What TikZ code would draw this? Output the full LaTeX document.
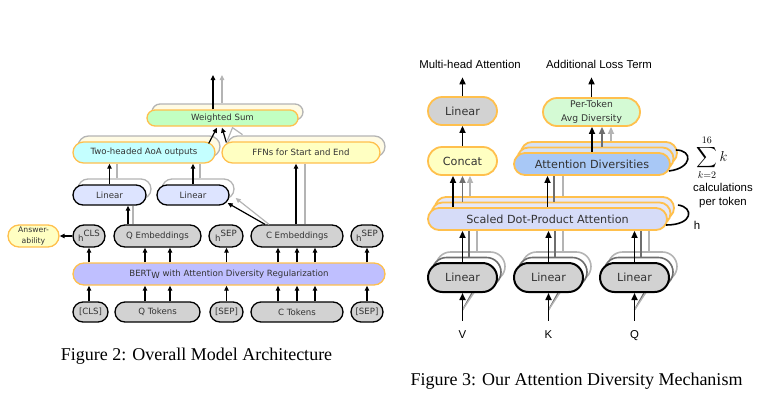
\documentclass[tikz,border=0pt]{standalone}
\usepackage{amsmath}
\usepackage{fontspec}
\setmainfont{Liberation Serif}
\setsansfont{DejaVu Sans}
\newfontfamily\arialfont{Liberation Sans}
\usetikzlibrary{shapes.misc,shadows,calc,arrows.meta,backgrounds}

\definecolor{boxorange}{HTML}{FFC04D}
\definecolor{aoacyan}{HTML}{C4FFFF}
\definecolor{sumgreen}{HTML}{C2FFC2}
\definecolor{ffnyellow}{HTML}{FFFFC2}
\definecolor{linblue}{HTML}{DDE4FF}
\definecolor{bertblue}{HTML}{BFBFFF}
\definecolor{embgray}{HTML}{D2D2D2}
\definecolor{creamshade}{HTML}{FFFBE4}
\definecolor{tokgreen}{HTML}{D4FAD4}
\definecolor{divblue}{HTML}{A8C8F6}
\definecolor{divback}{HTML}{D6E2F6}
\definecolor{sdpblue}{HTML}{D6DCF8}
\definecolor{sdpback}{HTML}{E6E8F8}
\definecolor{midgray}{HTML}{6E6E6E}
\definecolor{shadegray}{HTML}{B4B4B4}

\tikzset{
  pill/.style={rounded rectangle, inner sep=0pt, align=center, text=black!80},
  fig2/.style={pill, font=\sffamily\fontsize{8.6}{10}\selectfont, line width=1.3pt},
  fig3/.style={pill, font=\sffamily\fontsize{11.2}{13}\selectfont, line width=1.8pt},
  obox/.style={fig2, draw=boxorange, fill=#1},
  kbox/.style={fig2, draw=black, fill=#1},
  halo/.style={copy shadow={shadow xshift=5pt, shadow yshift=6pt, fill=#1, draw=shadegray}},
  ostack/.style 2 args={copy shadow={shadow xshift=7pt, shadow yshift=11pt, fill=#2, draw=boxorange},
                        copy shadow={shadow xshift=3.5pt, shadow yshift=5.5pt, fill=#1, draw=boxorange}},
  kstack/.style={copy shadow={shadow xshift=8pt, shadow yshift=11pt, fill=white, draw=shadegray, line width=1.6pt},
                 copy shadow={shadow xshift=4pt, shadow yshift=5.5pt, fill=white, draw=midgray, line width=1.6pt}},
  arr/.style={-{Triangle[length=5pt,width=4.5pt]}, line width=1.2pt},
  garr/.style={arr, draw=shadegray},
  gline/.style={line width=1.2pt, draw=shadegray},
  bigarr/.style={-{Triangle[length=7pt,width=6pt]}, line width=1.6pt},
  lbl/.style={font=\arialfont\fontsize{11.4}{14}\selectfont, inner sep=0pt, align=center},
  figcap/.style={font=\fontsize{18}{20}\selectfont, inner sep=0pt},
}

\begin{document}
\begin{tikzpicture}[x=1pt,y=-1pt]
  \useasboundingbox (0,0) rectangle (757,402);

  % Figure 2: tokens
  \node[kbox=embgray, minimum width=35pt, minimum height=20pt] (tcls) at (90.5,312) {[CLS]};
  \node[kbox=embgray, minimum width=85pt, minimum height=20pt] (tq) at (157.5,312) {Q Tokens};
  \node[kbox=embgray, minimum width=33pt, minimum height=20pt] (tsep) at (226.5,312) {[SEP]};
  \node[kbox=embgray, minimum width=92pt, minimum height=20pt] (tc) at (297,312) {C Tokens};
  \node[kbox=embgray, minimum width=32pt, minimum height=20pt] (tsepb) at (367,312) {[SEP]};

  % Encoder
  \node[obox=bertblue, minimum width=312pt, minimum height=22pt] (bert) at (229,274)
    {BERT\raisebox{-2.5pt}{W} with Attention Diversity Regularization};

  % Embeddings
  \node[kbox=embgray, minimum width=32pt, minimum height=22pt] (hcls) at (89,236) {h\raisebox{4.5pt}{CLS}};
  \node[kbox=embgray, minimum width=87pt, minimum height=22pt] (qemb) at (157.5,236) {Q Embeddings};
  \node[kbox=embgray, minimum width=34pt, minimum height=22pt] (hsep) at (226,236) {h\raisebox{4.5pt}{SEP}};
  \node[kbox=embgray, minimum width=92pt, minimum height=22pt] (cemb) at (297,236) {C Embeddings};
  \node[kbox=embgray, minimum width=32pt, minimum height=22pt] (hsepb) at (367,236) {h\raisebox{4.5pt}{SEP}};
  \node[obox=ffnyellow, minimum width=51pt, minimum height=22pt,
        font=\sffamily\fontsize{7.7}{11.5}\selectfont] (ans) at (33.5,236) {Answer-\\ability};

  % Linear layers and heads
  \node[kbox=linblue, halo=white, minimum width=73pt, minimum height=20pt] (lina) at (109.5,195) {Linear};
  \node[kbox=linblue, halo=white, minimum width=72pt, minimum height=20pt] (linb) at (193,195) {Linear};
  \node[obox=aoacyan, halo=creamshade, minimum width=142pt, minimum height=21pt] (aoa) at (144,152.5) {Two-headed AoA outputs};
  \node[obox=ffnyellow, halo=creamshade, minimum width=158pt, minimum height=21pt] (ffn) at (301,152.5) {FFNs for Start and End};
  \node[obox=sumgreen, halo=creamshade, minimum width=151pt, minimum height=16pt] (wsum) at (222.5,118) {Weighted Sum};
  \coordinate (wsout) at (213,75);

  % Arrows through the encoder
  \foreach \tok/\emb/\dx in {tcls/hcls/-1.5, tq/qemb/-12.5, tq/qemb/12.5, tsep/hsep/0,
                             tc/cemb/-19, tc/cemb/0, tc/cemb/18, tsepb/hsepb/0}{
    \draw[arr] ($(\tok.north)+(\dx,0)$) -- ($(\tok.north |- bert.south)+(\dx,0)$);
    \draw[arr] ($(\tok.north |- bert.north)+(\dx,0)$) -- ($(\tok.north |- \emb.south)+(\dx,0)$);
  }

  % Arrows to the heads
  \draw[arr] (hcls.west) -- (ans.east);
  \draw[arr] ($(qemb.north)+(-29.5,0)$) -- ($(qemb.north |- lina.south)+(-29.5,0)$);
  \draw[garr] ($(cemb.north)+(-28,0)$) -- ($(linb.east)+(6,3)$);
  \draw[arr] ($(cemb.north)+(-32,0)$) -- ($(linb.east)+(-2,8)$);
  \draw[arr] ($(cemb.north)+(-1,0)$) -- ($(cemb.north |- ffn.south)+(-1,0)$);
  \draw[arr] (lina.north) -- (lina.north |- aoa.south);
  \draw[arr] (linb.north) -- (linb.north |- aoa.south);
  \draw[arr] ($(aoa.east)+(-7,-9)$) -- ($(wsum.south)+(-5.5,1)$);
  \draw[arr] ($(ffn.west)+(5,-10)$) -- ($(wsum.south)+(-0.5,1)$);
  \draw[garr] ($(wsum.north)+(-0.5,-6)$) -- ($(wsout)+(9,0)$);
  \draw[arr] ($(wsum.north)+(-9.5,0)$) -- (wsout);

  \begin{scope}[on background layer]
    \draw[gline] ($(qemb.north)+(-24.5,0)$) -- ($(qemb.north |- lina.south)+(-24.5,0)$);
    \draw[gline] ($(lina.north)+(7.5,-6)$) -- ($(lina.north |- aoa.south)+(7.5,0)$);
    \draw[gline] ($(linb.north)+(7,-6)$) -- ($(linb.north |- aoa.south)+(7,0)$);
    \draw[gline] ($(cemb.north)+(8,0)$) -- ($(cemb.north |- ffn.south)+(8,0)$);
    \draw[gline] ($(ffn.west)+(6,-12)$) -- ($(wsum.south)+(10,1)$) -- ($(wsum.south)+(20,8)$);
  \end{scope}

  % Figure 3: projections
  \node[fig3, draw=black, line width=2pt, fill=embgray, kstack, minimum width=69pt, minimum height=29pt] (linv) at (462.5,277.5) {Linear};
  \node[fig3, draw=black, line width=2pt, fill=embgray, kstack, minimum width=69pt, minimum height=29pt] (link) at (548.5,277.5) {Linear};
  \node[fig3, draw=black, line width=2pt, fill=embgray, kstack, minimum width=69pt, minimum height=29pt] (linq) at (634.5,277.5) {Linear};

  % Attention and diversity stacks
  \node[fig3, draw=boxorange, fill=sdpblue, ostack={sdpback}{sdpback}, minimum width=239pt, minimum height=22pt] (sdpa) at (547.5,219) {Scaled Dot-Product Attention};
  \node[fig3, draw=boxorange, fill=divblue, ostack={divback}{divback}, minimum width=156pt, minimum height=22pt] (divs) at (592,164) {Attention Diversities};
  \node[fig3, draw=boxorange, fill=ffnyellow, minimum width=69pt, minimum height=28pt] (concat) at (462.5,161) {Concat};
  \node[fig3, draw=boxorange, fill=embgray, minimum width=69pt, minimum height=28pt] (lintop) at (462.5,111) {Linear};
  \node[fig3, draw=boxorange, fill=tokgreen, font=\sffamily\fontsize{9.2}{14}\selectfont,
        minimum width=97pt, minimum height=28pt] (avgdiv) at (591.5,112) {Per-Token\\Avg Diversity};

  % Labels
  \node[lbl, anchor=base] (mha) at (470,68) {Multi-head Attention};
  \node[lbl, anchor=base] (loss) at (599,68) {Additional Loss Term};
  \node[lbl, anchor=base] (vlab) at (462.5,338) {V};
  \node[lbl, anchor=base] (klab) at (548.5,338) {K};
  \node[lbl, anchor=base] (qlab) at (634.5,338) {Q};
  \node[font=\fontsize{14}{16}\selectfont, inner sep=0pt] (sumk) at (712,158) {$\displaystyle\sum_{k=2}^{16} k$};
  \node[lbl] (calcs) at (723,196) {calculations\\per token};
  \node[lbl] (hlab) at (697,225) {h};

  % Arrows of figure 3
  \foreach \lin/\lab in {linv/vlab, link/klab, linq/qlab}{
    \draw[bigarr] ($(\lab.north)+(0,-9)$) -- (\lin.south);
    \draw[bigarr] (\lin.north) -- (\lin.north |- sdpa.south);
    \draw[line width=1.6pt, midgray] ($(\lin.north)+(6.5,-5.5)$) -- ($(\lin.north |- sdpa.south)+(6.5,0)$);
    \draw[line width=1.6pt, shadegray] ($(\lin.north)+(14.5,-11)$) -- ($(\lin.north |- sdpa.south)+(14.5,0)$);
  }
  \begin{scope}[on background layer]
    \foreach \lin/\lab in {linv/vlab, link/klab, linq/qlab}{
      \draw[line width=1.3pt, midgray] ($(\lab.north)+(0,-20)$) -- ($(\lin.south)+(12.5,-5.5)$);
      \draw[line width=1.3pt, shadegray] ($(\lab.north)+(0,-20)$) -- ($(\lin.south)+(18.5,-11)$);
    }
  \end{scope}
  \draw[bigarr] ($(concat.south |- sdpa.north)+(-9.5,0)$) -- ($(concat.south)+(-9.5,0)$);
  \draw[bigarr, midgray] ($(concat.south |- sdpa.north)+(0,-5.5)$) -- (concat.south);
  \draw[bigarr, shadegray] ($(concat.south |- sdpa.north)+(7.5,-11)$) -- ($(concat.south)+(7.5,0)$);
  \draw[bigarr] (sdpa.north) -- (sdpa.north |- divs.south);
  \draw[line width=1.6pt, midgray] ($(sdpa.north)+(6.5,-5.5)$) -- ($(sdpa.north |- divs.south)+(6.5,0)$);
  \draw[line width=1.6pt, shadegray] ($(sdpa.north)+(15.5,-11)$) -- ($(sdpa.north |- divs.south)+(15.5,0)$);
  \draw[bigarr] (divs.north) -- (divs.north |- avgdiv.south);
  \draw[bigarr, midgray] ($(divs.north)+(10,-5.5)$) -- ($(divs.north |- avgdiv.south)+(10,0)$);
  \draw[bigarr, shadegray] ($(divs.north)+(19,-11)$) -- ($(divs.north |- avgdiv.south)+(19,0)$);
  \draw[bigarr] (concat.north) -- (lintop.south);
  \draw[bigarr] (lintop.north) -- ($(lintop.north |- mha.south)+(0,9)$);
  \draw[bigarr] (avgdiv.north) -- ($(avgdiv.north |- loss.south)+(0,9)$);

  % Loops over heads
  \draw[line width=1.6pt] ($(divs.east)+(5,-14)$) .. controls ($(divs.east)+(22,-14)$) and ($(divs.east)+(22,4)$) .. ($(divs.east)+(-2,7)$);
  \draw[line width=1.6pt] ($(sdpa.east)+(10,-14)$) .. controls ($(sdpa.east)+(26,-12)$) and ($(sdpa.east)+(26,6)$) .. ($(sdpa.east)+(-2,6)$);

  % Captions
  \node[figcap] (fig2cap) at (196.5,356) {Figure 2: Overall Model Architecture};
  \node[figcap] (fig3cap) at (576.5,381) {Figure 3: Our Attention Diversity Mechanism};
\end{tikzpicture}
\end{document}
